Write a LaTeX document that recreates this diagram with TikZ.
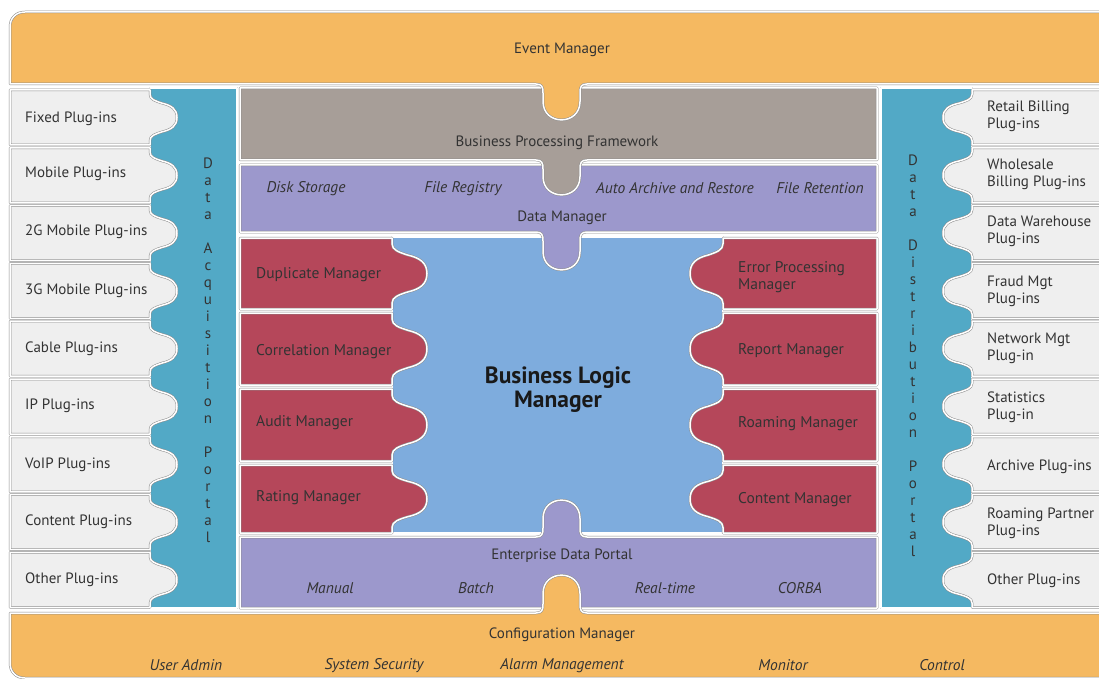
\documentclass[tikz,border=0pt]{standalone}
\usepackage{fontspec}
\setmainfont{PT Sans}
\definecolor{orng}{HTML}{F5B961}
\definecolor{plug}{HTML}{EFEFEF}
\definecolor{colblue}{HTML}{52A9C6}
\definecolor{bpf}{HTML}{A79E98}
\definecolor{lav}{HTML}{9C98CC}
\definecolor{mred}{HTML}{B5475A}
\definecolor{cblue}{HTML}{7EACDD}
\definecolor{txt}{HTML}{333333}
\tikzset{
  piece/.style={draw=black!45, line width=0.5pt, double=white, double distance=1.5pt, line join=round},
  lbl/.style={font=\fontsize{15}{17}\selectfont, text=txt, inner sep=0pt, yshift=-1.5pt},
  ilbl/.style={font=\fontsize{15.5}{17}\selectfont\itshape, text=txt, inner sep=0pt, yshift=-1.5pt},
  rlbl/.style={font=\fontsize{15.5}{17}\selectfont, text=black!80, inner sep=0pt, anchor=west, align=left, yshift=-1.5pt},
}
% vertical edge from (#1,#2) to (#1,#3) with a round knob of depth #4, direction #5 (1 = +x, -1 = -x)
\newcommand\kbV[5]{%
 -- ({#1},{#2+0.08*(#3-#2)})
 .. controls ({#1},{#2+0.17*(#3-#2)}) and ({#1+0.2*(#5)*#4},{#2+0.2*(#3-#2)}) .. ({#1+0.45*(#5)*#4},{#2+0.24*(#3-#2)})
 .. controls ({#1+0.8*(#5)*#4},{#2+0.28*(#3-#2)}) and ({#1+(#5)*#4},{#2+0.35*(#3-#2)}) .. ({#1+(#5)*#4},{#2+0.5*(#3-#2)})
 .. controls ({#1+(#5)*#4},{#2+0.65*(#3-#2)}) and ({#1+0.8*(#5)*#4},{#2+0.72*(#3-#2)}) .. ({#1+0.45*(#5)*#4},{#2+0.76*(#3-#2)})
 .. controls ({#1+0.2*(#5)*#4},{#2+0.8*(#3-#2)}) and ({#1},{#2+0.83*(#3-#2)}) .. ({#1},{#2+0.92*(#3-#2)})
 -- ({#1},{#3})}
% horizontal edge at y=#1, U-shaped tab of depth #2, direction #3 (1 = down, -1 = up); traversed right to left
\newcommand\kbHL[3]{%
 -- (587,{#1}) .. controls (581,{#1}) and (580,{#1+3*(#3)}) .. (580,{#1+9*(#3)})
 -- (580,{#1+(#2-18.5)*(#3)}) .. controls (580,{#1+(#2+6)*(#3)}) and (543,{#1+(#2+6)*(#3)}) .. (543,{#1+(#2-18.5)*(#3)})
 -- (543,{#1+9*(#3)}) .. controls (543,{#1+3*(#3)}) and (542,{#1}) .. (536,{#1})}
% same, traversed left to right
\newcommand\kbHR[3]{%
 -- (536,{#1}) .. controls (542,{#1}) and (543,{#1+3*(#3)}) .. (543,{#1+9*(#3)})
 -- (543,{#1+(#2-18.5)*(#3)}) .. controls (543,{#1+(#2+6)*(#3)}) and (580,{#1+(#2+6)*(#3)}) .. (580,{#1+(#2-18.5)*(#3)})
 -- (580,{#1+9*(#3)}) .. controls (580,{#1+3*(#3)}) and (581,{#1}) .. (587,{#1})}
\begin{document}
\begin{tikzpicture}[x=1pt,y=-1pt]
\clip (0,0) rectangle (1099,679);
\fill[white] (0,0) rectangle (1099,679);
% central blue
\path[piece, fill=cblue] (392,237) rectangle (723,533);
% red managers
\foreach \ya/\yb in {238/309,313/385,389/461,465/533}{
  \path[piece, fill=mred] (240,\ya) -- (392,\ya) \kbV{392}{\ya}{\yb}{35}{1} -- (240,\yb) -- cycle;
  \path[piece, fill=mred] (877,\ya) -- (723,\ya) \kbV{723}{\ya}{\yb}{33}{-1} -- (877,\yb) -- cycle;
}
% data manager
\path[piece, fill=lav] (240,165) -- (877,165) -- (877,232) \kbHL{232}{38}{1} -- (240,232) -- cycle;
% business processing framework
\path[piece, fill=bpf] (240,88) -- (877,88) -- (877,160) \kbHL{160}{35}{1} -- (240,160) -- cycle;
% enterprise data portal
\path[piece, fill=lav] (240,608) -- (240,537) \kbHR{537}{37}{-1} -- (877,537) -- (877,608) -- cycle;
% event manager
\path[piece, fill=orng] (1110,12) -- (25,12) .. controls (16,12) and (10,18) .. (10,27) -- (10,84) \kbHR{84}{36}{1} -- (1110,84) -- cycle;
% configuration manager
\path[piece, fill=orng] (10,613) \kbHR{613}{38}{-1} -- (1110,613) -- (1110,678) -- (25,678) .. controls (16,678) and (10,672) .. (10,663) -- cycle;
% portals
\path[piece, fill=colblue] (150,88) rectangle (237,608);
\path[piece, fill=colblue] (881,88) rectangle (972,608);
% plug-ins
\foreach \i in {0,...,8}{
  \pgfmathsetmacro\ya{90+57.8*\i}
  \pgfmathsetmacro\yb{\ya+55}
  \path[piece, fill=plug] (10,\ya) -- (150,\ya) \kbV{150}{\ya}{\yb}{27}{1} -- (10,\yb) -- cycle;
  \path[piece, fill=plug] (1110,\ya) -- (972,\ya) \kbV{972}{\ya}{\yb}{29}{-1} -- (1110,\yb) -- cycle;
}
% texts
\node[lbl] (em) at (562,48) {Event Manager};
\node[lbl] (bpfl) at (557,141) {Business Processing Framework};
\node[ilbl] (ds) at (306,187) {Disk Storage};
\node[ilbl] (fr) at (463,187) {File Registry};
\node[ilbl] (aa) at (675,187) {Auto Archive and Restore};
\node[ilbl] (fret) at (820,187) {File Retention};
\node[lbl] (dm) at (562,216) {Data Manager};
\node[lbl] (edp) at (562,554) {Enterprise Data Portal};
\node[ilbl] (man) at (330,587) {Manual};
\node[ilbl] (bat) at (476,587) {Batch};
\node[ilbl] (rt) at (665,587) {Real-time};
\node[ilbl] (corba) at (800,587) {CORBA};
\node[lbl] (cm) at (562,633) {Configuration Manager};
\node[ilbl] (ua) at (186,664) {User Admin};
\node[ilbl] (ss) at (374,664) {System Security};
\node[ilbl] (am) at (562,664) {Alarm Management};
\node[ilbl] (mon) at (783,664) {Monitor};
\node[ilbl] (ctl) at (942,664) {Control};
\node[font=\fontsize{23.5}{24}\selectfont\bfseries, text=black!90, align=center, inner sep=0pt, yshift=-1.5pt] (blm) at (558,388) {Business Logic\\Manager};
\node[rlbl] (dup) at (256,273) {Duplicate Manager};
\node[rlbl] (cor) at (256,350) {Correlation Manager};
\node[rlbl] (aud) at (256,421) {Audit Manager};
\node[rlbl] (rat) at (256,496) {Rating Manager};
\node[rlbl] (err) at (738,276) {Error Processing\\Manager};
\node[rlbl] (rep) at (738,349) {Report Manager};
\node[rlbl] (roa) at (738,422) {Roaming Manager};
\node[rlbl] (con) at (738,498) {Content Manager};
\node[lbl, align=center] (dap) at (208,349) {D\\a\\t\\a\\[17pt]A\\c\\q\\u\\i\\s\\i\\t\\i\\o\\n\\[17pt]P\\o\\r\\t\\a\\l};
\node[lbl, align=center] (ddp) at (913,354) {D\\a\\t\\a\\[17pt]D\\i\\s\\t\\r\\i\\b\\u\\t\\i\\o\\n\\[17pt]P\\o\\r\\t\\a\\l};
\foreach \n/\t/\y in {p1/Fixed Plug-ins/117, p2/Mobile Plug-ins/172, p3/2G Mobile Plug-ins/230, p4/3G Mobile Plug-ins/289, p5/Cable Plug-ins/347, p6/IP Plug-ins/404, p7/VoIP Plug-ins/463, p8/Content Plug-ins/520, p9/Other Plug-ins/578}{
  \node[lbl, anchor=west] (\n) at (25,\y) {\t};
}
\foreach \n/\t/\y in {q1/{Retail Billing\\Plug-ins}/115, q2/{Wholesale\\Billing Plug-ins}/173, q3/{Data Warehouse\\Plug-ins}/230, q4/{Fraud Mgt\\Plug-ins}/290, q5/{Network Mgt\\Plug-in}/347, q6/{Statistics\\Plug-in}/406, q7/{Archive Plug-ins}/465, q8/{Roaming Partner\\Plug-ins}/522, q9/{Other Plug-ins}/579}{
  \node[lbl, anchor=west, align=left] (\n) at (987,\y) {\t};
}
\end{tikzpicture}
\end{document}
